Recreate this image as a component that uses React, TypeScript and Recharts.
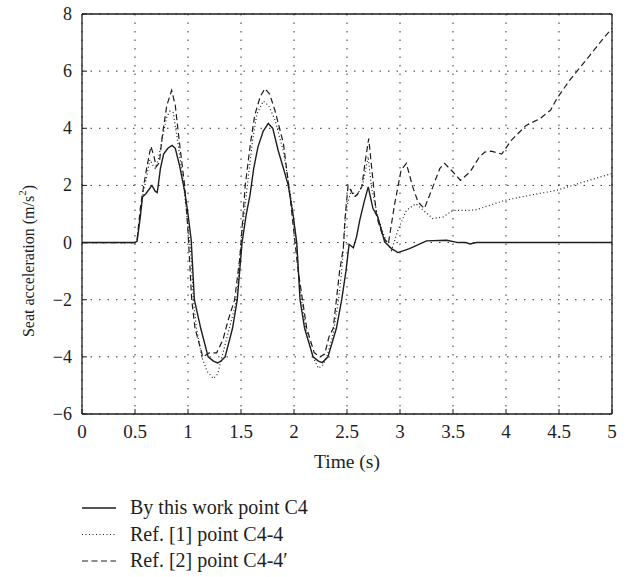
import React from 'react';
import { LineChart, Line, XAxis, YAxis, CartesianGrid } from 'recharts';

// Seat acceleration traces (time in s, acceleration in m/s^2)
const solidTime = [0, 0.5, 0.52, 0.55, 0.57, 0.6, 0.63, 0.66, 0.69, 0.71, 0.74, 0.77, 0.81, 0.85, 0.88, 0.92, 0.97, 1.0, 1.03, 1.06, 1.12, 1.19, 1.24, 1.28, 1.31, 1.35, 1.42, 1.465, 1.51, 1.55, 1.585, 1.62, 1.66, 1.71, 1.757, 1.8, 1.85, 1.9, 1.946, 1.99, 2.026, 2.057, 2.1, 2.18, 2.23, 2.267, 2.32, 2.4, 2.45, 2.49, 2.52, 2.56, 2.59, 2.62, 2.66, 2.7, 2.745, 2.79, 2.855, 2.92, 2.98, 3.09, 3.25, 3.44, 3.55, 3.62, 3.66, 3.72, 5];
const solidAcc = [0, 0, 0.05, 0.9, 1.6, 1.7, 1.85, 2.0, 1.8, 1.75, 2.6, 3.1, 3.3, 3.4, 3.3, 2.7, 1.77, 1.0, 0.1, -2.0, -3.0, -4.0, -4.15, -4.21, -4.15, -4.0, -3.0, -2.0, 0, 1.0, 1.66, 2.6, 3.35, 3.9, 4.17, 4.0, 3.23, 2.6, 2.0, 1.0, 0, -2.0, -3.0, -4.0, -4.15, -4.2, -4.0, -3.0, -2.0, -1.0, -0.06, -0.18, 0.2, 0.78, 1.4, 1.95, 1.19, 0.9, 0.02, -0.21, -0.35, -0.21, 0.06, 0.08, 0, 0, -0.05, 0, 0];

const dottedTime = [0, 0.5, 0.52, 0.55, 0.58, 0.61, 0.64, 0.67, 0.69, 0.72, 0.76, 0.8, 0.83, 0.86, 0.9, 0.95, 1.0, 1.03, 1.05, 1.08, 1.13, 1.18, 1.24, 1.28, 1.32, 1.39, 1.46, 1.5, 1.56, 1.61, 1.65, 1.71, 1.76, 1.82, 1.9, 1.97, 2.02, 2.04, 2.07, 2.11, 2.18, 2.23, 2.27, 2.31, 2.37, 2.42, 2.45, 2.47, 2.49, 2.54, 2.59, 2.65, 2.7, 2.73, 2.79, 2.87, 2.92, 2.98, 3.06, 3.15, 3.22, 3.31, 3.41, 3.5, 3.66, 3.72, 3.99, 4.23, 4.48, 4.73, 5];
const dottedAcc = [0, 0, 0.1, 1.0, 1.8, 2.3, 2.9, 2.7, 2.6, 2.9, 3.7, 4.4, 4.6, 4.55, 3.6, 2.3, 0.6, -0.5, -2.0, -3.0, -4.0, -4.5, -4.76, -4.6, -4.0, -3.0, -2.0, 0, 2.0, 3.6, 4.5, 4.95, 4.8, 4.3, 3.2, 1.6, 0.1, -1.0, -2.0, -3.0, -4.0, -4.4, -4.3, -4.0, -3.2, -2.0, -1.0, 0, 1.13, 1.83, 1.6, 2.07, 3.0, 1.95, 0.9, 0.02, -0.27, 0.43, 1.13, 1.36, 1.13, 0.84, 0.9, 1.13, 1.13, 1.15, 1.48, 1.66, 1.83, 2.12, 2.42];

const dashedTime = [0, 0.5, 0.52, 0.55, 0.58, 0.61, 0.65, 0.68, 0.7, 0.73, 0.76, 0.8, 0.846, 0.88, 0.92, 0.97, 1.0, 1.035, 1.066, 1.14, 1.2, 1.27, 1.33, 1.38, 1.44, 1.49, 1.54, 1.59, 1.63, 1.68, 1.726, 1.77, 1.82, 1.9, 1.96, 2.007, 2.04, 2.08, 2.12, 2.19, 2.245, 2.29, 2.33, 2.37, 2.4, 2.43, 2.465, 2.48, 2.51, 2.54, 2.57, 2.6, 2.64, 2.67, 2.705, 2.745, 2.78, 2.84, 2.89, 2.95, 3.01, 3.06, 3.12, 3.17, 3.23, 3.31, 3.375, 3.42, 3.5, 3.57, 3.66, 3.75, 3.8, 3.86, 3.96, 4.05, 4.19, 4.32, 4.42, 4.48, 4.6, 4.73, 4.855, 4.93, 5];
const dashedAcc = [0, 0, 0.1, 1.2, 1.95, 2.6, 3.37, 3.0, 2.65, 2.8, 3.8, 4.8, 5.33, 4.8, 3.47, 1.95, 0.4, -2.0, -3.0, -4.0, -3.86, -3.86, -3.4, -2.7, -2.0, -0.5, 2.0, 3.5, 4.46, 5.1, 5.39, 5.2, 4.63, 3.47, 1.71, 0.08, -1.0, -2.0, -3.0, -3.85, -4.0, -3.9, -3.3, -3.0, -2.0, -1.0, -0.2, 0.78, 2.0, 1.8, 1.6, 1.7, 1.95, 2.8, 3.64, 2.18, 0.9, 0.2, -0.04, 1.36, 2.53, 2.77, 1.95, 1.42, 1.19, 1.95, 2.59, 2.77, 2.47, 2.18, 2.47, 3.0, 3.17, 3.2, 3.1, 3.58, 4.1, 4.34, 4.63, 5.04, 5.68, 6.27, 6.85, 7.2, 7.5];

const xTicks = [0, 0.5, 1, 1.5, 2, 2.5, 3, 3.5, 4, 4.5, 5];
const yTicks = [-6, -4, -2, 0, 2, 4, 6, 8];

const series = [
  { name: 'By this work point C4', time: solidTime, acc: solidAcc, dash: undefined, width: 1.4 },
  { name: 'Ref. [1] point C4-4', time: dottedTime, acc: dottedAcc, dash: '1 2.5', width: 1.2 },
  { name: 'Ref. [2] point C4-4\u2032', time: dashedTime, acc: dashedAcc, dash: '6 3.5', width: 1.2 },
];

const FONT = '"Liberation Serif", "DejaVu Serif", serif';
const INK = '#1e1e1e';

const toPoints = (time: number[], acc: number[]) => time.map((t, i) => ({ t, a: acc[i] }));

const fmt = (v: number) => String(v).replace('-', '\u2212');

const BottomTick = (props: any) => {
  const { x, y, payload } = props;
  return (
    <g>
      <line x1={x} y1={y} x2={x} y2={y - 5} stroke={INK} strokeWidth={1} />
      <text x={x} y={y + 24} textAnchor="middle" fontFamily={FONT} fontSize={19} fill={INK}>
        {fmt(payload.value)}
      </text>
    </g>
  );
};

const TopTick = (props: any) => {
  const { x, y } = props;
  return <line x1={x} y1={y} x2={x} y2={y + 5} stroke={INK} strokeWidth={1} />;
};

const LeftTick = (props: any) => {
  const { x, y, payload } = props;
  return (
    <g>
      <line x1={x} y1={y} x2={x + 5} y2={y} stroke={INK} strokeWidth={1} />
      <text x={x - 10} y={y + 6} textAnchor="end" fontFamily={FONT} fontSize={18} fill={INK}>
        {fmt(payload.value)}
      </text>
    </g>
  );
};

const RightTick = (props: any) => {
  const { x, y } = props;
  return <line x1={x} y1={y} x2={x - 5} y2={y} stroke={INK} strokeWidth={1} />;
};

const YLabel = (props: any) => {
  const vb = props.viewBox || { x: 0, y: 14, width: 82, height: 400 };
  const cx = vb.x + 28;
  const cy = vb.y + vb.height / 2 + 47;
  return (
    <text
      x={cx}
      y={cy}
      transform={`rotate(-90, ${cx}, ${cy})`}
      textAnchor="middle"
      dominantBaseline="central"
      fontFamily={FONT}
      fontSize={16}
      fill={INK}
    >
      <tspan>Seat acceleration (m/s</tspan>
      <tspan dy={-6} fontSize={11}>2</tspan>
      <tspan dy={6}>)</tspan>
    </text>
  );
};

const LegendBlock = () => (
  <svg width={400} height={80} style={{ position: 'absolute', left: 0, top: 497 }}>
    {series.map((s, i) => {
      const base = 17 + i * 26.5;
      return (
        <g key={s.name}>
          <line x1={82} y1={base - 6} x2={116} y2={base - 6} stroke={INK} strokeWidth={s.width} strokeDasharray={s.dash} />
          <text x={130} y={base} fontFamily={FONT} fontSize={20} fill={INK}>
            {s.name}
          </text>
        </g>
      );
    })}
  </svg>
);

export default function App() {
  return (
    <div style={{ position: 'absolute', left: 0, top: 0, width: 638, height: 577, background: '#fff' }}>
      <LineChart width={638} height={577} margin={{ top: 0, right: 0, left: 0, bottom: 0 }}>
        <CartesianGrid stroke="#333" strokeDasharray="1.5 7" strokeWidth={1} />
        <XAxis
          dataKey="t"
          type="number"
          domain={[0, 5]}
          ticks={xTicks}
          interval={0}
          height={163}
          tickSize={0}
          tickMargin={0}
          tickLine={false}
          tick={<BottomTick />}
          axisLine={{ stroke: INK, strokeWidth: 1.3 }}
          label={{ value: 'Time (s)', position: 'insideTop', offset: 40, fontFamily: FONT, fontSize: 19.5, fill: INK }}
        />
        <XAxis
          xAxisId="top"
          orientation="top"
          dataKey="t"
          type="number"
          domain={[0, 5]}
          ticks={xTicks}
          interval={0}
          height={14}
          tickSize={0}
          tickMargin={0}
          tickLine={false}
          tick={<TopTick />}
          axisLine={{ stroke: INK, strokeWidth: 1.3 }}
        />
        <YAxis
          type="number"
          domain={[-6, 8]}
          ticks={yTicks}
          interval={0}
          width={82}
          tickSize={0}
          tickMargin={0}
          tickLine={false}
          tick={<LeftTick />}
          axisLine={{ stroke: INK, strokeWidth: 1.3 }}
          label={<YLabel />}
        />
        <YAxis
          yAxisId="right"
          orientation="right"
          type="number"
          domain={[-6, 8]}
          ticks={yTicks}
          interval={0}
          width={26}
          tickSize={0}
          tickMargin={0}
          tickLine={false}
          tick={<RightTick />}
          axisLine={{ stroke: INK, strokeWidth: 1.3 }}
        />
        {series.map(s => (
          <Line
            key={s.name}
            data={toPoints(s.time, s.acc)}
            dataKey="a"
            name={s.name}
            type="linear"
            stroke={INK}
            strokeWidth={s.width}
            strokeDasharray={s.dash}
            dot={false}
            activeDot={false}
            isAnimationActive={false}
          />
        ))}
      </LineChart>
      <LegendBlock />
    </div>
  );
}
